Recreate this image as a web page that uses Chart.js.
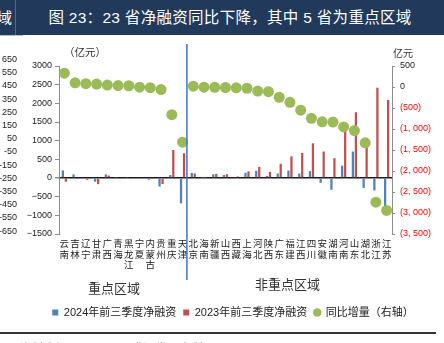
<!DOCTYPE html>
<html><head><meta charset="utf-8">
<script src="https://cdn.jsdelivr.net/npm/chart.js@4/dist/chart.umd.min.js"></script>
<style>
html,body{margin:0;padding:0;background:#fff;width:444px;height:343px;overflow:hidden;font-family:"Liberation Sans","Noto Sans CJK SC",sans-serif;}
#wrap{position:relative;width:444px;height:343px;overflow:hidden;}
canvas{position:absolute;left:0;top:0;}
.abs{position:absolute;white-space:nowrap;}
.lt{position:absolute;right:427px;font-size:9px;color:#222;text-align:right;line-height:10px;}
</style></head><body>
<div id="wrap">
<div class="abs" style="left:0;top:0;width:444px;height:35px;background:#213A5C;"></div>
<div class="abs" style="left:15px;top:0;width:1px;height:35px;background:#50698C;"></div>
<div class="abs" style="left:-3px;top:0;height:35px;line-height:35px;color:#fff;font-size:15px;">域</div>
<div class="abs" style="left:16px;top:0;width:428px;height:35px;line-height:35px;color:#fff;font-size:15.5px;text-align:center;letter-spacing:0.3px;">图 23：23 省净融资同比下降，其中 5 省为重点区域</div>
<div class="abs" style="left:0;top:35px;width:23px;height:1px;background:#b8c0cc;"></div>
<canvas id="c" width="444" height="343"></canvas>
<div id="strip"></div>
<div class="abs" style="left:64px;top:44px;font-size:10.5px;color:#333;">（亿元）</div>
<div class="abs" style="left:393px;top:45px;font-size:10px;color:#333;">亿元</div>
<div class="abs" style="left:88px;top:278px;font-size:13px;color:#333;">重点区域</div>
<div class="abs" style="left:255px;top:274px;font-size:13px;color:#333;">非重点区域</div>
<div class="abs" style="left:0;top:332px;width:436px;height:2px;background:#333;"></div>
<div class="abs" style="left:20px;top:339px;font-size:12px;color:#999;">资料来源：Wind，国盛证券研究所</div>
</div>
<script>
const provinces = ['云南','吉林','辽宁','甘肃','广西','青海','黑龙江','宁夏','内蒙古','贵州','重庆','天津',
  '北京','海南','新疆','山西','西藏','上海','河北','陕西','广东','福建','江西','四川','安徽','湖南','河南','山东','湖北','浙江','江苏'];
const net2024 = [203, 95, 20, -99, 95, 10, 10, -25, -45, -228, 80, -680,
  135, 5, 100, 82, 15, 140, 190, 55, 120, 200, 118, 183, -128, -315, 330, 710, -265, -335, -760];
const net2023 = [-99, -5, -50, -165, 65, -20, -15, -20, -30, -162, 750, 662,
  120, 10, 110, 100, 40, 178, 298, 165, 380, 580, 673, 930, 709, 530, 1295, 1760, 1075, 2420, 2090];
const yoyChange = [330, 100, 80, 70, 45, 35, 30, -5, -15, -60, -660, -1315,
  20, -5, -8, -12, -20, -30, -97, -112, -244, -365, -551, -745, -828, -836, -950, -1038, -1330, -2743, -2940];
const leftTicks = [3000, -1500, 500];
const rightTicks = [500, -3500, 500];
const stripLabels = ['650','550','450','350','250','150','50','-50','-150','-250','-350','-450','-550','-650'];
const keyRegionCount = 12;

// neighbouring chart's clipped axis labels on the left edge
const strip = document.getElementById('strip');
stripLabels.forEach((t, i) => {
  const d = document.createElement('div');
  d.className = 'lt';
  d.style.top = (54 + i * 13.2) + 'px';
  d.textContent = t;
  strip.appendChild(d);
});

const FONT = "'Liberation Sans','Noto Sans CJK SC',sans-serif";
const labels = provinces.map(p => p.split(''));

function fmtThousands(n) {
  const s = String(Math.abs(n));
  return s.length > 3 ? s.slice(0, s.length - 3) + ', ' + s.slice(s.length - 3) : s;
}

const dividerPlugin = {
  id: 'divider',
  afterDraw(chart) {
    const xs = chart.scales.x;
    const px = (xs.getPixelForValue(keyRegionCount - 1) + xs.getPixelForValue(keyRegionCount)) / 2 - 1;
    const ctx = chart.ctx;
    ctx.save();
    ctx.strokeStyle = '#4472C4';
    ctx.lineWidth = 1.5;
    ctx.beginPath();
    ctx.moveTo(px, 44);
    ctx.lineTo(px, 280);
    ctx.stroke();
    ctx.restore();
  }
};

new Chart(document.getElementById('c'), {
  type: 'bar',
  data: {
    labels: labels,
    datasets: [
      { label: '2024年前三季度净融资', data: net2024, backgroundColor: '#4F81BD', yAxisID: 'y', order: 1,
        pointStyle: 'rect', categoryPercentage: 0.56, barPercentage: 0.75 },
      { label: '2023年前三季度净融资', data: net2023, backgroundColor: '#C0504D', yAxisID: 'y', order: 1,
        pointStyle: 'rect', categoryPercentage: 0.56, barPercentage: 0.75 },
      { type: 'line', label: '同比增量（右轴）', data: yoyChange, yAxisID: 'y1', order: 0, showLine: false,
        pointRadius: 5.5, pointBorderWidth: 0, pointBackgroundColor: '#9BBB59', backgroundColor: '#9BBB59',
        borderColor: '#9BBB59', pointStyle: 'circle' }
    ]
  },
  options: {
    responsive: false,
    animation: false,
    layout: { padding: { left: 22, right: 0, top: 66, bottom: 15 } },
    plugins: {
      legend: {
        position: 'bottom',
        labels: {
          usePointStyle: true, boxWidth: 6, boxHeight: 6, padding: 7,
          font: { size: 11, family: FONT }, color: '#222',
          sort: (a, b) => a.datasetIndex - b.datasetIndex
        }
      },
      tooltip: { enabled: false }
    },
    scales: {
      x: {
        grid: { display: false, drawTicks: false },
        border: { display: false },
        ticks: { autoSkip: false, maxRotation: 0, minRotation: 0, padding: 5,
          font: { size: 9.5, family: FONT, lineHeight: 1.13 }, color: '#222' },
        afterFit(s) { s.height = 66; }
      },
      y: {
        position: 'left', min: leftTicks[1], max: leftTicks[0],
        ticks: { stepSize: leftTicks[2], padding: 3, font: { size: 9, family: FONT }, color: '#222',
          callback: v => v < 0 ? '\u2212' + Math.abs(v) : String(v) },
        grid: {
          drawOnChartArea: true,
          color: c => (c.tick && c.tick.value === 0) ? '#1a1a1a' : 'rgba(0,0,0,0)',
          lineWidth: c => (c.tick && c.tick.value === 0) ? 1.5 : 1,
          tickColor: '#8c8c8c', tickLength: 4
        },
        border: { color: '#8c8c8c', width: 1 },
        afterFit(s) { s.width = 37; }
      },
      y1: {
        position: 'right', min: rightTicks[1], max: rightTicks[0],
        ticks: { stepSize: rightTicks[2], padding: 5, font: { size: 9, family: FONT },
          color: c => (c.tick && c.tick.value < 0) ? '#FF0000' : '#222',
          callback: v => v < 0 ? '(' + fmtThousands(v) + ')' : fmtThousands(v) },
        grid: { drawOnChartArea: false, tickColor: '#8c8c8c', tickLength: 3 },
        border: { color: '#8c8c8c', width: 1 },
        afterFit(s) { s.width = 52; }
      }
    }
  },
  plugins: [dividerPlugin]
});
</script>
</body></html>
